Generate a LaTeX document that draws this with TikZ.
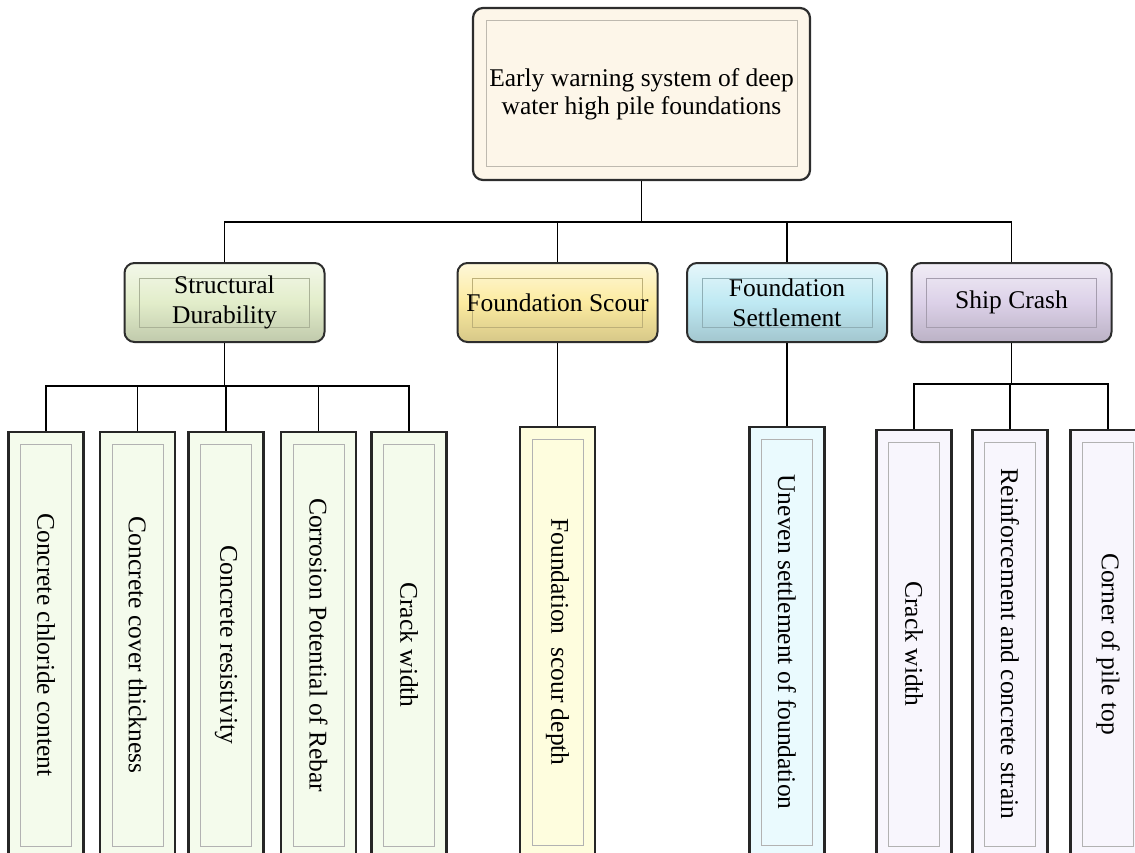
\documentclass[tikz,border=0pt]{standalone}
\usepackage{fontspec}
\setmainfont{Liberation Serif}
\usepackage{graphicx}
\usetikzlibrary{calc}
\definecolor{boxedge}{RGB}{45,45,45}
\definecolor{rootcream}{RGB}{253,246,233}
\definecolor{durgreen}{RGB}{226,237,202}
\definecolor{scouryellow}{RGB}{252,235,160}
\definecolor{settleblue}{RGB}{191,233,243}
\definecolor{shippurple}{RGB}{220,209,232}
\definecolor{leafgreen}{RGB}{244,251,236}
\definecolor{leafyellow}{RGB}{254,253,222}
\definecolor{leafblue}{RGB}{234,250,254}
\definecolor{leafpurple}{RGB}{248,246,253}

\tikzset{
  innerframe/.style 2 args={path picture={
    \draw[#1,line width=1pt,sharp corners]
      ($(path picture bounding box.north west)+(#2,-#2)$) rectangle
      ($(path picture bounding box.south east)+(-#2,#2)$);}},
  rootbox/.style={draw=boxedge, line width=2.2pt, rounded corners=10pt,
    fill=rootcream, minimum width=337pt, minimum height=172pt, inner sep=0pt,
    align=center, font=\fontsize{25.5}{28}\selectfont,
    innerframe={rootcream!75!black}{13pt}},
  midbox/.style={draw=boxedge, line width=2pt, rounded corners=10pt,
    top color=#1!40!white, bottom color=#1!85!black, middle color=#1,
    minimum width=200pt, minimum height=79pt, inner sep=0pt,
    align=center, font=\fontsize{25.5}{30}\selectfont,
    innerframe={#1!75!black}{15pt}},
  leafbox/.style={draw=black!85, line width=2.5pt, fill=#1,
    minimum width=75pt, inner sep=0pt, font=\fontsize{25.5}{30}\selectfont,
    innerframe={black!30}{12pt}},
}

\begin{document}
\begin{tikzpicture}[x=1pt, y=-1pt, line width=1.5pt]
    \path[use as bounding box, clip] (0,0) rectangle (1135,853);
    % raiz
    \node[rootbox] (root) at (641.5,94) {Early warning system of deep\\water high pile foundations};
    % segundo nivel
    \node[midbox=durgreen] (dur) at (224.5,302.5) {Structural\\Durability};
    \node[midbox=scouryellow] (scour) at (557.5,302.5) {Foundation Scour};
    \node[midbox=settleblue] (settle) at (787,302.5) {Foundation\\Settlement};
    \node[midbox=shippurple] (ship) at (1011.5,302.5) {Ship Crash};
    % hojas de durabilidad
    \node[leafbox=leafgreen, minimum height=426pt] (chloride) at (46,645) {\rotatebox{-90}{Concrete chloride content}};
    \node[leafbox=leafgreen, minimum height=426pt] (cover) at (137.5,645) {\rotatebox{-90}{Concrete cover thickness}};
    \node[leafbox=leafgreen, minimum height=426pt] (resist) at (226,645) {\rotatebox{-90}{Concrete resistivity}};
    \node[leafbox=leafgreen, minimum height=426pt] (corros) at (318.5,645) {\rotatebox{-90}{Corrosion Potential of Rebar}};
    \node[leafbox=leafgreen, minimum height=426pt] (crackA) at (409,645) {\rotatebox{-90}{Crack width}};
    % socavacion y asentamiento
    \node[leafbox=leafyellow, minimum height=430pt] (depth) at (557.5,642) {\rotatebox{-90}{Foundation~ scour depth}};
    \node[leafbox=leafblue, minimum height=430pt] (uneven) at (787,642) {\rotatebox{-90}{Uneven settlement of foundation}};
    % hojas de choque
    \node[leafbox=leafpurple, minimum height=428pt] (crackB) at (914,644) {\rotatebox{-90}{Crack width}};
    \node[leafbox=leafpurple, minimum height=428pt] (strain) at (1010,644) {\rotatebox{-90}{Reinforcement and concrete strain}};
    \node[leafbox=leafpurple, minimum height=428pt] (corner) at (1108,644) {\rotatebox{-90}{Corner of pile top}};
    % conectores
    \coordinate (topbus) at (641.5,222);
    \draw (root.south) -- (topbus);
    \draw (dur.north) |- (topbus);
    \draw (scour.north) |- (topbus);
    \draw (settle.north) |- (topbus);
    \draw (ship.north) |- (topbus);
    \coordinate (durbus) at (224.5,386);
    \draw (dur.south) -- (durbus);
    \draw (chloride.north) |- (durbus);
    \draw (cover.north) |- (durbus);
    \draw (resist.north) |- (durbus);
    \draw (corros.north) |- (durbus);
    \draw (crackA.north) |- (durbus);
    \draw (scour.south) -- (depth.north);
    \draw (settle.south) -- (uneven.north);
    \coordinate (shipbus) at (1011.5,384);
    \draw (ship.south) -- (shipbus);
    \draw (crackB.north) |- (shipbus);
    \draw (strain.north) |- (shipbus);
    \draw (corner.north) |- (shipbus);
\end{tikzpicture}
\end{document}
